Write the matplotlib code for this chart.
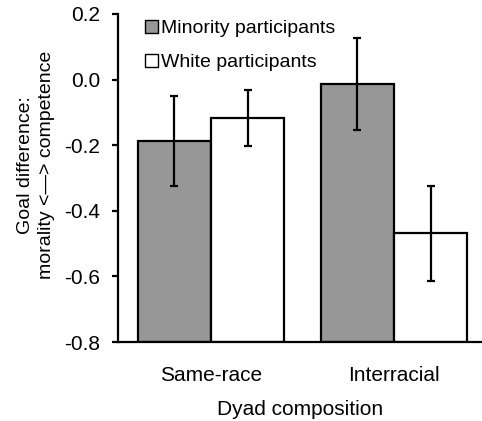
import matplotlib
matplotlib.use("Agg")
import matplotlib.pyplot as plt
import numpy as np

plt.rcParams['font.family'] = ['Liberation Sans', 'DejaVu Sans']
plt.rcParams['axes.unicode_minus'] = False

categories = ["Same-race", "Interracial"]
series_names = ["Minority participants", "White participants"]
minority_means = [-0.187, -0.013]
minority_err = [0.136, 0.140]
white_means = [-0.116, -0.469]
white_err = [0.085, 0.145]
yticks = [-0.8, -0.6, -0.4, -0.2, 0.0, 0.2]

baseline = -0.8
fig = plt.figure(figsize=(4.82, 4.21), dpi=100)
ax = fig.add_axes([118/482, 1-342/421, 1-118/482, (342-14)/421])

x = np.arange(len(categories))
w = 0.4
lw = 1.6
mm = np.array(minority_means)
wm = np.array(white_means)
ax.bar(x - w/2, mm - baseline, w, bottom=baseline, color='#979797',
       edgecolor='black', linewidth=lw, label=series_names[0], zorder=2)
ax.bar(x + w/2, wm - baseline, w, bottom=baseline, color='white',
       edgecolor='black', linewidth=lw, label=series_names[1], zorder=2)
ax.errorbar(x - w/2, mm, yerr=minority_err, fmt='none', ecolor='black',
            elinewidth=1.6, capsize=3, capthick=1.6, zorder=3)
ax.errorbar(x + w/2, wm, yerr=white_err, fmt='none', ecolor='black',
            elinewidth=1.6, capsize=3, capthick=1.6, zorder=3)

ax.set_xlim(-0.508, 1.481)
ax.set_ylim(-0.8, 0.2)
ax.set_yticks(yticks)
ax.set_yticklabels([f"{v:.1f}" for v in yticks], fontsize=15)
ax.set_xticks(x)
ax.set_xticklabels(categories, fontsize=15)
ax.tick_params(axis='x', length=0, pad=17)
ax.tick_params(axis='y', length=4, width=1.6, direction='out', pad=9)
for s in ['top', 'right']:
    ax.spines[s].set_visible(False)
for s in ['left', 'bottom']:
    ax.spines[s].set_linewidth(1.6)

ax.set_xlabel("Dyad composition", fontsize=15, labelpad=11)
ax.set_ylabel("Goal difference:\nmorality <\u2014> competence", fontsize=14,
              linespacing=1.3)
ax.yaxis.set_label_coords(-0.172, 0.54)

leg = ax.legend(loc='upper left', bbox_to_anchor=(145/482, 1-20/421),
                bbox_transform=fig.transFigure, frameon=False, fontsize=14,
                handlelength=0.65, handleheight=0.65, handletextpad=0.15,
                labelspacing=0.85, borderpad=0, borderaxespad=0)
for h in leg.legend_handles:
    h.set_linewidth(1.0)

fig.savefig("out.png", dpi=100)
